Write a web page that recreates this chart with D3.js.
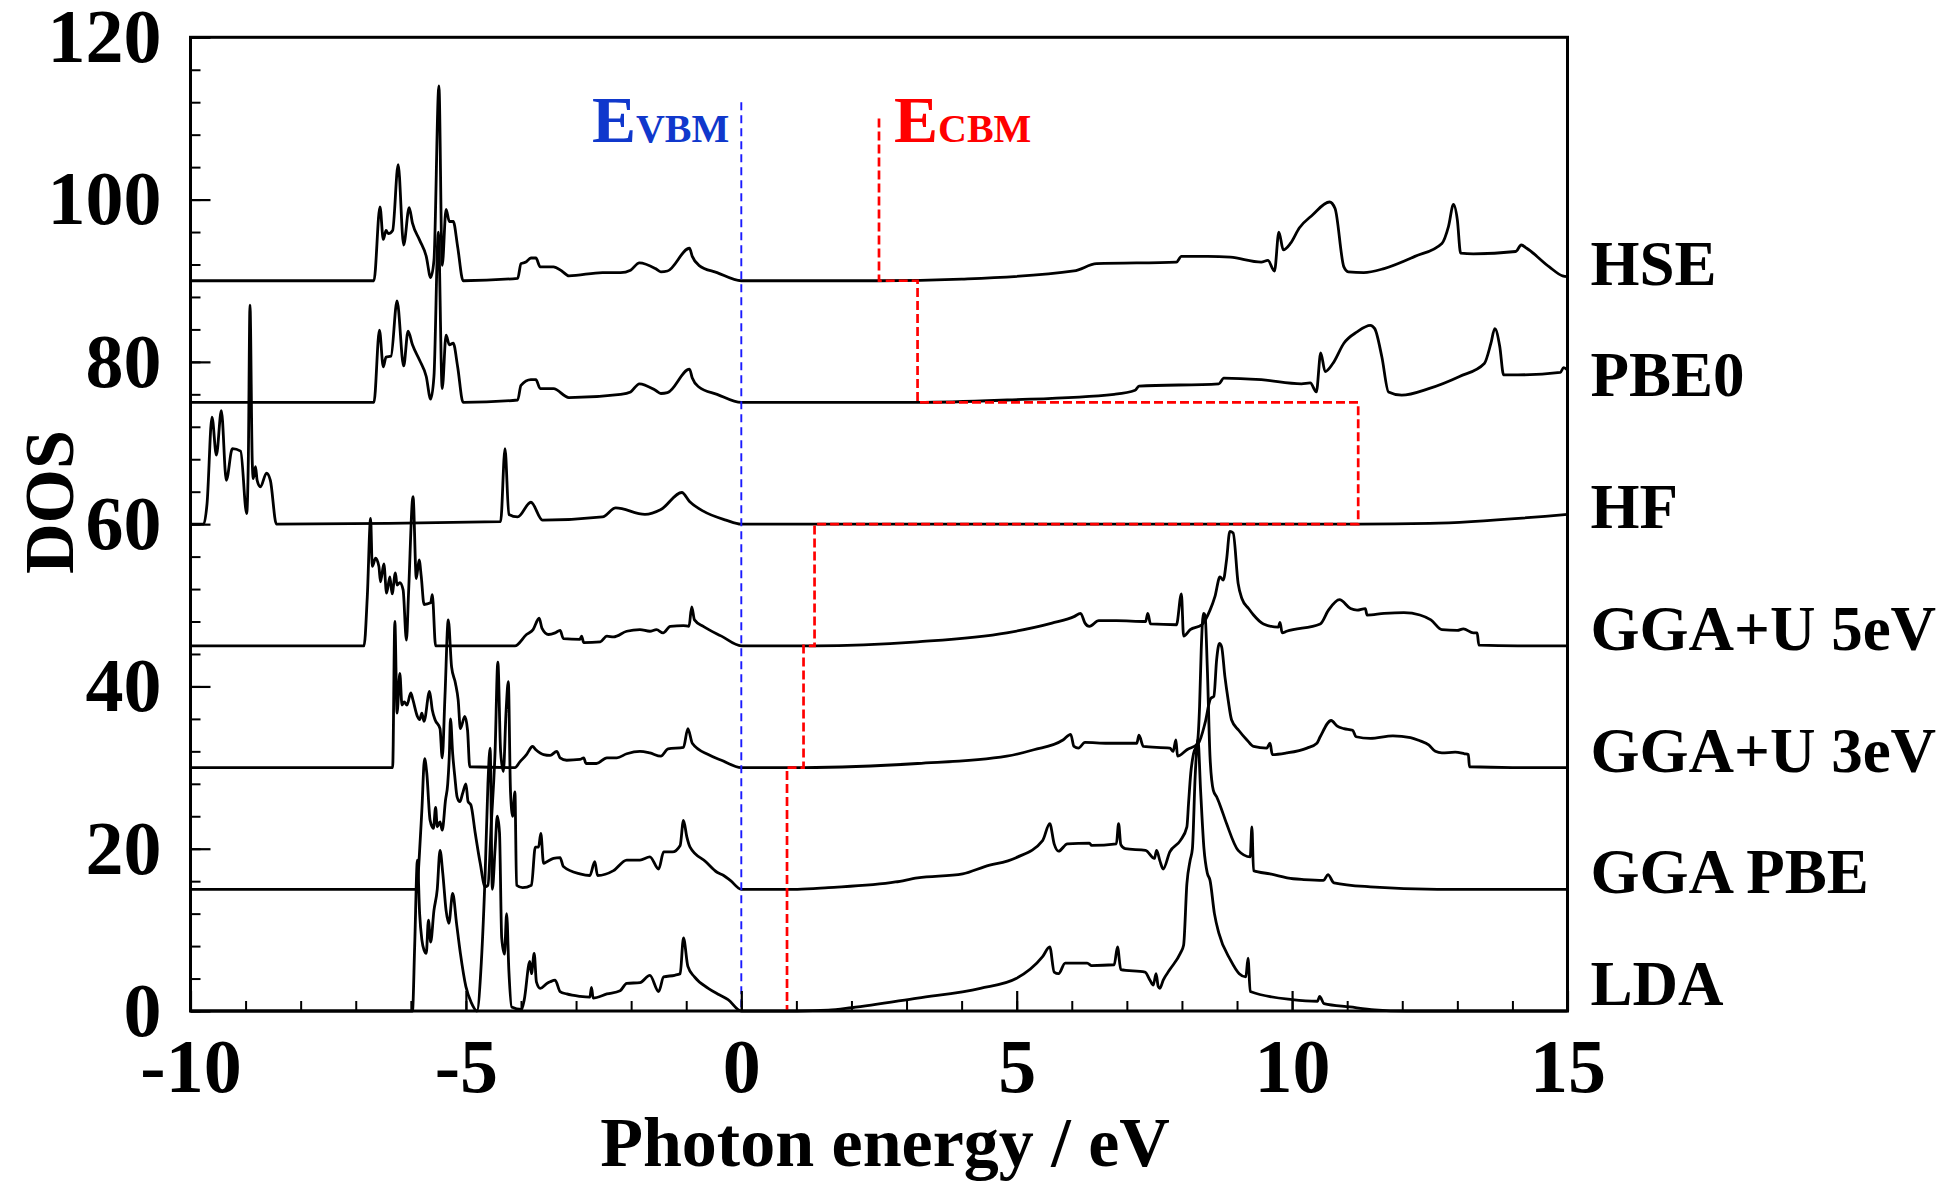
<!DOCTYPE html>
<html>
<head>
<meta charset="utf-8">
<script src="https://cdn.jsdelivr.net/npm/d3@7"></script>
<style>
  body { margin: 0; background: #fff; }
  text { font-family: "Liberation Serif", "Times New Roman", serif; font-weight: bold; }
</style>
</head>
<body>
<div id="chart"></div>
<script>
// DOS curves, [photon energy eV, DOS] (before vertical offset)
const hse = [[-10,0],[-6.67,0],[-6.56,9.1],[-6.5,5.1],[-6.45,6.2],[-6.41,5.8],[-6.33,6.2],[-6.23,14.3],[-6.13,4.4],[-6.03,9],[-5.97,7.1],[-5.84,5],[-5.72,3],[-5.64,0.4],[-5.58,2.5],[-5.49,24],[-5.43,1.9],[-5.36,8.8],[-5.3,7.3],[-5.23,7.3],[-5.15,4.2],[-5.05,0],[-4.06,0.3],[-4,2.1],[-3.91,2.3],[-3.82,2.8],[-3.73,2.8],[-3.65,1.7],[-3.41,1.7],[-3.26,1.2],[-3.13,0.6],[-2.52,1],[-2.19,1],[-2.01,1.3],[-1.85,2.2],[-1.56,1.5],[-1.46,1.1],[-1.34,1.2],[-0.94,4],[-0.89,3],[-0.77,1.9],[-0.44,1],[0,0],[2.5,0],[4,0.2],[6.04,1.2],[6.45,2.1],[7.9,2.3],[7.99,3],[8.47,3],[8.88,2.9],[9.44,2.3],[9.56,2.5],[9.68,1.2],[9.76,6],[9.84,3.8],[9.97,4.6],[10.13,6.5],[10.37,8.1],[10.68,9.7],[10.78,8.9],[10.94,1.7],[11.02,1.1],[11.3,1],[11.67,1.5],[12.23,3],[12.72,4.6],[12.84,6.7],[12.93,9.4],[13,7.5],[13.06,3.4],[13.29,3.3],[14.06,3.6],[14.16,4.4],[14.26,4],[14.67,1.7],[14.91,0.6],[15,0.5]];
const pbe0 = [[-10,0],[-6.67,0],[-6.57,8.9],[-6.5,4.4],[-6.45,5.6],[-6.36,5.7],[-6.25,12.5],[-6.13,4.5],[-6.05,8.8],[-5.97,7.1],[-5.84,5.2],[-5.72,3.2],[-5.64,0.4],[-5.58,3.2],[-5.5,21],[-5.43,1.7],[-5.36,8.3],[-5.3,7.1],[-5.23,7.3],[-5.15,4.4],[-5.05,0],[-4.06,0.3],[-4,2.1],[-3.82,2.8],[-3.73,2.8],[-3.65,1.7],[-3.41,1.7],[-3.13,0.6],[-2.19,1],[-2.01,1.3],[-1.85,2.3],[-1.56,1.5],[-1.46,1.1],[-1.34,1.2],[-0.94,4.1],[-0.89,3],[-0.77,1.9],[-0.44,1],[0,0],[3.2,0],[4.83,0.3],[6.77,1],[7.15,1.5],[7.22,2],[8.67,2.3],[8.76,3],[9.44,2.8],[10.17,2.3],[10.33,2.4],[10.44,1.3],[10.52,6.1],[10.6,3.8],[10.74,4.8],[10.94,7.3],[11.18,8.7],[11.42,9.5],[11.5,9.1],[11.63,5.6],[11.75,1.3],[11.99,0.9],[12.48,1.7],[13.04,3.2],[13.49,4.8],[13.61,7.3],[13.68,9.1],[13.77,6.9],[13.84,3.4],[14.1,3.4],[14.87,3.7],[14.93,4.3],[15,4]];
const hf = [[-10,0],[-9.76,0],[-9.7,2.5],[-9.61,13.2],[-9.53,8.5],[-9.44,14],[-9.35,5.4],[-9.24,9.3],[-9.09,9],[-8.98,1.3],[-8.95,8],[-8.92,27],[-8.88,8],[-8.86,5.6],[-8.82,7.1],[-8.79,5.4],[-8.73,4.6],[-8.62,6.3],[-8.55,5.4],[-8.44,0],[-4.37,0.3],[-4.29,9.3],[-4.22,1.2],[-4.06,0.9],[-3.82,2.7],[-3.61,0.5],[-2.52,0.9],[-2.28,2],[-1.75,1.2],[-1.46,1.8],[-1.08,3.9],[-0.94,2.8],[-0.69,1.6],[-0.28,0.5],[0,0],[11.22,0],[12.5,0.1],[15,1.2]];
const ggaU5 = [[-10,0],[-6.85,0],[-6.79,6.1],[-6.73,15.7],[-6.7,9.8],[-6.64,10.8],[-6.58,9.8],[-6.55,7.9],[-6.49,10.1],[-6.44,6.5],[-6.38,8.5],[-6.34,6.4],[-6.28,9],[-6.25,7.5],[-6.2,7.8],[-6.14,6.9],[-6.08,0.7],[-6.04,6.7],[-5.96,18.4],[-5.9,8.3],[-5.85,10.6],[-5.81,8.5],[-5.76,5.1],[-5.64,5.3],[-5.61,6.3],[-5.55,0],[-4.11,0],[-3.9,1.4],[-3.78,2],[-3.67,3.4],[-3.62,2.2],[-3.5,1.4],[-3.38,1.6],[-3.29,1.9],[-3.23,0.9],[-2.93,0.8],[-2.9,1.2],[-2.86,0.4],[-2.56,0.5],[-2.44,1.2],[-2.32,1.1],[-2.08,1.8],[-1.84,2],[-1.66,1.8],[-1.54,2],[-1.42,1.6],[-1.29,2.4],[-1.05,2.5],[-0.95,2.4],[-0.9,4.8],[-0.85,3.2],[-0.69,2.4],[-0.36,1.2],[0,0],[1.34,0],[3.2,0.5],[4.82,1.6],[5.64,2.8],[6.04,3.6],[6.16,4],[6.24,2.8],[6.32,2.4],[6.49,3.1],[6.81,3.1],[7.34,3],[7.38,4],[7.43,2.7],[7.9,2.6],[7.99,6.4],[8.03,1.2],[8.15,2],[8.36,2.6],[8.51,4.4],[8.6,6.1],[8.69,8.5],[8.75,8.1],[8.81,10.6],[8.87,14.1],[8.93,13.9],[9.02,7.7],[9.09,5.8],[9.21,4.6],[9.3,3.8],[9.48,2.7],[9.75,2.3],[9.78,2.9],[9.82,1.6],[9.9,1.8],[10.51,2.7],[10.66,4.4],[10.86,5.7],[11.06,4.6],[11.18,4.4],[11.33,4.6],[11.36,3.8],[11.67,4],[12.03,4.1],[12.32,3.8],[12.52,3.2],[12.72,2],[13,1.9],[13.11,2.1],[13.29,1.6],[13.36,1.6],[13.39,0.1],[14.1,0],[15,0]];
const ggaU3 = [[-10,0],[-6.33,0],[-6.29,18],[-6.25,6.7],[-6.2,11.6],[-6.16,7.7],[-6.12,8.1],[-6.07,7.7],[-6,9.2],[-5.96,8.3],[-5.88,6.3],[-5.84,5.9],[-5.8,6.7],[-5.76,5.7],[-5.66,9.4],[-5.61,7.1],[-5.56,5.9],[-5.47,4.8],[-5.43,1.2],[-5.38,8.8],[-5.32,18.2],[-5.26,12.4],[-5.19,10.4],[-5.14,8.3],[-5.1,4.8],[-5.02,6.3],[-4.97,4.6],[-4.93,0.1],[-4.11,0],[-4.02,0.7],[-3.9,1.6],[-3.79,2.6],[-3.73,2.2],[-3.59,1.6],[-3.47,1.5],[-3.35,2],[-3.29,1.2],[-3.17,0.9],[-2.93,1],[-2.86,1.2],[-2.82,0.5],[-2.63,0.5],[-2.44,1.2],[-2.26,1.2],[-2.08,1.7],[-1.84,2],[-1.66,1.8],[-1.46,1.4],[-1.33,2.3],[-1.05,2.5],[-0.97,4.8],[-0.89,3],[-0.6,1.6],[-0.36,0.9],[0,0],[1.13,0],[3.2,0.5],[4.82,1.4],[5.31,2.2],[5.84,3.4],[5.98,4.1],[6.04,2.6],[6.12,2.4],[6.24,3.1],[6.65,3],[7.18,3],[7.22,4],[7.3,2.6],[7.78,2.4],[7.84,2],[7.89,3.4],[7.92,1.4],[8.09,2.2],[8.3,3],[8.42,5.5],[8.52,8.5],[8.58,8.8],[8.63,13.3],[8.68,15.3],[8.72,14.9],[8.78,11.2],[8.84,8.3],[8.9,5.9],[9.03,4.6],[9.18,3.4],[9.3,2.6],[9.54,2.4],[9.6,3],[9.64,1.6],[9.9,1.8],[10.27,2.4],[10.45,3],[10.51,3.8],[10.71,5.8],[10.82,5.1],[10.94,4.8],[11.1,4.6],[11.16,3.8],[11.42,3.6],[11.83,3.9],[12.15,3.7],[12.32,3.3],[12.48,2.8],[12.6,2],[12.72,1.8],[12.96,1.9],[13.13,1.7],[13.2,1.6],[13.22,0.1],[14,0],[15,0]];
const ggaPbe = [[-10,0],[-5.89,0],[-5.85,3.6],[-5.8,9.7],[-5.75,16.1],[-5.71,14.3],[-5.65,8.5],[-5.59,7.5],[-5.55,10.1],[-5.52,7.7],[-5.47,8.3],[-5.43,7.3],[-5.37,11],[-5.33,13],[-5.3,16.7],[-5.28,21],[-5.24,16.7],[-5.2,13.8],[-5.16,11.4],[-5.11,10.8],[-5.06,11.8],[-5,13],[-4.96,10.8],[-4.91,10.4],[-4.83,6.9],[-4.74,3.2],[-4.65,0.3],[-4.6,0.5],[-4.54,8],[-4.47,17],[-4.42,28],[-4.37,17],[-4.32,14.5],[-4.27,22],[-4.23,25.6],[-4.19,12],[-4.15,9],[-4.11,12],[-4.08,0.5],[-3.97,0.2],[-3.81,0.5],[-3.74,5.2],[-3.68,5.2],[-3.64,6.9],[-3.59,3.2],[-3.53,3.4],[-3.41,3.8],[-3.29,3.9],[-3.23,2.8],[-2.93,1.9],[-2.75,1.7],[-2.66,3.4],[-2.61,1.7],[-2.32,2.3],[-2.08,3.6],[-1.84,3.6],[-1.66,4],[-1.5,2.5],[-1.41,4.6],[-1.25,4.6],[-1.11,5.4],[-1.05,8.5],[-0.99,6.5],[-0.93,5.2],[-0.645,3.4],[-0.44,2.1],[-0.32,1.7],[-0.2,1.1],[0,0],[1.02,0],[1.58,0.2],[2.8,0.9],[3.2,1.4],[4.02,1.9],[4.42,2.8],[4.99,3.9],[5.47,6],[5.6,8.1],[5.68,5.6],[5.76,4.7],[5.92,5.6],[6.32,5.7],[6.36,5.4],[6.81,5.6],[6.85,8.1],[6.89,5.5],[6.97,5],[7.34,4.8],[7.5,3.8],[7.54,4.8],[7.6,3.5],[7.66,2.5],[7.78,4.6],[7.97,6],[8.09,7.7],[8.12,10.6],[8.16,14.3],[8.21,16.7],[8.28,18],[8.32,22.5],[8.35,29.5],[8.39,34],[8.42,33.8],[8.46,27.4],[8.51,16.3],[8.57,12.2],[8.63,11.4],[8.69,10.4],[8.81,8.1],[9.02,4.8],[9.24,4],[9.27,7.7],[9.3,2.3],[9.6,1.9],[10.02,1.3],[10.21,1.2],[10.57,1.1],[10.65,1.8],[10.76,0.8],[11.42,0.3],[12.64,0],[15,0]];
const lda = [[-10,0],[-5.97,0],[-5.93,8],[-5.88,18.6],[-5.84,12],[-5.8,8.8],[-5.76,7.5],[-5.72,7.1],[-5.68,11.2],[-5.64,8.5],[-5.58,12.4],[-5.52,15],[-5.47,19.8],[-5.42,17],[-5.36,12.4],[-5.31,10.8],[-5.24,14.5],[-5.17,10.8],[-5.1,7.1],[-5,3],[-4.9,1],[-4.8,0],[-4.72,6],[-4.65,17],[-4.6,28],[-4.56,32.4],[-4.52,15],[-4.47,20],[-4.43,24],[-4.39,22],[-4.35,9],[-4.3,7],[-4.26,12],[-4.22,5],[-4.17,0.5],[-3.99,0.2],[-3.94,1.4],[-3.84,6.1],[-3.81,4.6],[-3.76,7.1],[-3.72,3.6],[-3.65,2.8],[-3.53,3.4],[-3.47,3.6],[-3.38,3.8],[-3.29,2.4],[-3.17,2.1],[-2.93,1.8],[-2.75,1.7],[-2.72,2.9],[-2.69,1.6],[-2.44,2.1],[-2.2,2.5],[-2.08,3.4],[-1.84,3.5],[-1.66,4.4],[-1.5,2.4],[-1.41,4.2],[-1.21,4.4],[-1.11,4.6],[-1.05,9],[-0.97,5.5],[-0.85,4.2],[-0.6,2.8],[-0.4,2],[-0.24,1.4],[0,0],[1.02,0],[1.58,0.1],[2,0.4],[3.2,1.6],[4.34,2.8],[4.99,4],[5.47,6.7],[5.6,7.9],[5.68,4.8],[5.76,4.6],[5.88,5.9],[6.28,5.9],[6.36,5.6],[6.77,5.7],[6.83,7.9],[6.89,5.1],[7.33,4.8],[7.42,3.8],[7.48,3.2],[7.53,4.6],[7.57,3],[7.6,2.8],[7.66,3.8],[7.78,5.1],[7.97,7.1],[8.03,8.1],[8.09,15.7],[8.15,18.6],[8.19,20],[8.24,28.9],[8.29,33.5],[8.34,27],[8.4,20],[8.46,17],[8.51,16.1],[8.59,12],[8.67,9.6],[8.88,6.3],[9.04,4.6],[9.16,4.2],[9.2,6.5],[9.24,2.4],[10,1.4],[10.46,1.2],[10.5,1.8],[10.58,0.9],[11.05,0.5],[11.5,0.15],[12.07,0],[15,0]];

const methods = ["HSE", "PBE0", "HF", "GGA+U 5eV", "GGA+U 3eV", "GGA PBE", "LDA"];
const offsets = [90, 75, 60, 45, 30, 15, 0];
const curves = [hse, pbe0, hf, ggaU5, ggaU3, ggaPbe, lda];

// band edges: VBM at 0, CBM staircase through the seven gaps
const vbmLine = [[0, 112], [0, 0]];
const cbmPath = [[2.5,110],[2.5,90],[3.2,90],[3.2,75],[11.2,75],[11.2,60],[1.33,60],[1.33,45],[1.13,45],[1.13,30],[0.83,30],[0.83,0]];

const xTicks = [-10, -5, 0, 5, 10, 15];
const xMinor = d3.range(-10, 15.01, 1);
const yTicks = [0, 20, 40, 60, 80, 100, 120];
const yMinor = d3.range(0, 120.01, 4);

const width = 1952, height = 1183;
const x = d3.scaleLinear([-10, 15], [190.5, 1567.5]);
const y = d3.scaleLinear([0, 120], [1011, 37.3]);

const svg = d3.select("#chart").append("svg")
  .attr("width", width)
  .attr("height", height)
  .attr("viewBox", [0, 0, width, height]);

svg.append("rect").attr("width", width).attr("height", height).attr("fill", "#fff");

// curves
curves.forEach((c, i) => {
  const line = d3.line()
    .x(d => x(d[0]))
    .y(d => y(d[1] + offsets[i]))
    .curve(d3.curveMonotoneX);
  svg.append("path")
    .datum(c)
    .attr("fill", "none")
    .attr("stroke", "#000")
    .attr("stroke-width", 2.8)
    .attr("stroke-linejoin", "round")
    .attr("d", line);
});

const edge = d3.line().x(d => x(d[0])).y(d => y(d[1]));

svg.append("path")
  .datum(cbmPath)
  .attr("fill", "none")
  .attr("stroke", "#ff0000")
  .attr("stroke-width", 2.7)
  .attr("stroke-dasharray", "9,4")
  .attr("d", edge);

svg.append("path")
  .datum(vbmLine)
  .attr("fill", "none")
  .attr("stroke", "#1a1aff")
  .attr("stroke-width", 1.9)
  .attr("stroke-dasharray", "8,5")
  .attr("d", edge);

// axes, ticks pointing inward
const axisFont = g => g.selectAll("text")
  .attr("font-family", "Liberation Serif, Times New Roman, serif")
  .attr("font-weight", "bold")
  .attr("font-size", 76)
  .attr("fill", "#000");

svg.append("g")
  .attr("transform", `translate(0,${y(0)})`)
  .call(d3.axisBottom(x).tickValues(xMinor).tickSize(-10).tickFormat(""))
  .call(g => g.select(".domain").remove())
  .call(g => g.selectAll(".tick line").attr("stroke-width", 2));

svg.append("g")
  .attr("transform", `translate(0,${y(0)})`)
  .call(d3.axisBottom(x).tickValues(xTicks).tickSize(-20).tickPadding(27).tickFormat(d3.format("d")))
  .call(g => g.select(".domain").remove())
  .call(g => g.selectAll(".tick line").attr("stroke-width", 2.2))
  .call(axisFont)
  .call(g => g.selectAll("text").text(d => d < 0 ? "-" + Math.abs(d) : d));

svg.append("g")
  .attr("transform", `translate(${x(-10)},0)`)
  .call(d3.axisLeft(y).tickValues(yMinor).tickSize(-10).tickFormat(""))
  .call(g => g.select(".domain").remove())
  .call(g => g.selectAll(".tick line").attr("stroke-width", 2));

svg.append("g")
  .attr("transform", `translate(${x(-10)},0)`)
  .call(d3.axisLeft(y).tickValues(yTicks).tickSize(-20).tickPadding(29))
  .call(g => g.select(".domain").remove())
  .call(g => g.selectAll(".tick line").attr("stroke-width", 2.2))
  .call(axisFont);

// frame
svg.append("rect")
  .attr("x", x(-10))
  .attr("y", y(120))
  .attr("width", x(15) - x(-10))
  .attr("height", y(0) - y(120))
  .attr("fill", "none")
  .attr("stroke", "#000")
  .attr("stroke-width", 3);

// method labels on the right, nudged as in the figure
svg.append("g")
  .selectAll("text")
  .data(methods)
  .join("text")
  .attr("x", x(15) + 23)
  .attr("y", (d, i) => y(offsets[i]) + 4)
  .attr("dy", (d, i) => (i === 1 || i === 6) ? -10 : 0)
  .attr("font-size", 63)
  .attr("fill", "#000")
  .text(d => d);

// band edge labels
const vbmText = svg.append("text")
  .attr("x", x(0) - 12)
  .attr("y", y(112) + 40)
  .attr("text-anchor", "end")
  .attr("fill", "#1038cc");
vbmText.append("tspan").attr("font-size", 66).text("E");
vbmText.append("tspan").attr("font-size", 40).text("VBM");

const cbmText = svg.append("text")
  .attr("x", x(2.5) + 15)
  .attr("y", y(112) + 40)
  .attr("fill", "#ff0000");
cbmText.append("tspan").attr("font-size", 66).text("E");
cbmText.append("tspan").attr("font-size", 40).text("CBM");

// axis titles
svg.append("text")
  .attr("x", (x(-10) + x(15)) / 2 + 6)
  .attr("y", 1166)
  .attr("text-anchor", "middle")
  .attr("font-size", 70)
  .attr("fill", "#000")
  .text("Photon energy / eV");

svg.append("text")
  .attr("transform", "translate(73,502) rotate(-90)")
  .attr("text-anchor", "middle")
  .attr("font-size", 70)
  .attr("fill", "#000")
  .text("DOS");
</script>
</body>
</html>
